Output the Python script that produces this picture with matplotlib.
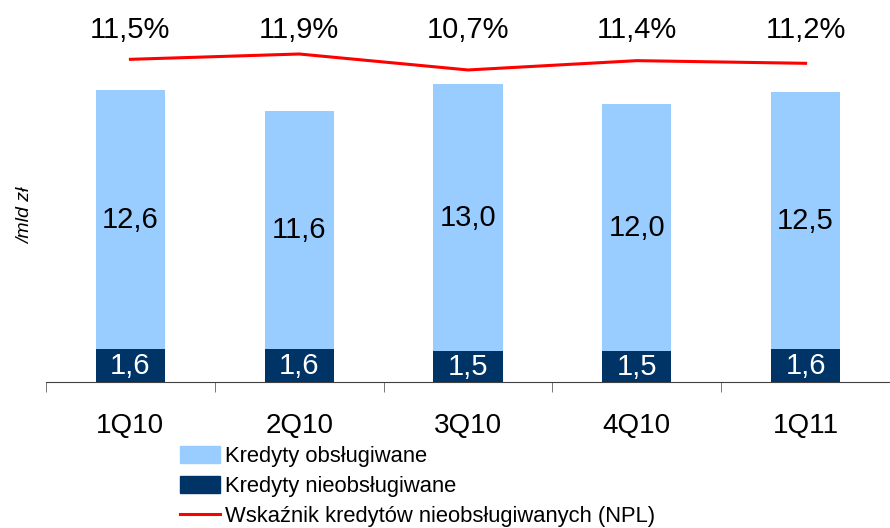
import matplotlib
matplotlib.use('Agg')
import matplotlib.pyplot as plt
from matplotlib.patches import Patch
from matplotlib.lines import Line2D

plt.rcParams['font.family'] = ['Liberation Sans', 'DejaVu Sans']

quarters = ['1Q10', '2Q10', '3Q10', '4Q10', '1Q11']
performing = [12.6, 11.6, 13.0, 12.0, 12.5]
nonperforming = [1.6, 1.6, 1.5, 1.5, 1.6]
npl_ratio = [11.5, 11.9, 10.7, 11.4, 11.2]

LIGHT = '#99CCFF'
NAVY = '#003366'
RED = '#FF0000'


def fmt(v):
    return f'{v:.1f}'.replace('.', ',')


fig = plt.figure(figsize=(8.9, 5.28), dpi=100)
ax = fig.add_axes([46 / 890, 1 - 382 / 528, 1 - 46 / 890, 382 / 528])

x = list(range(len(quarters)))
w = 0.41
ax.bar(x, nonperforming, w, color=NAVY, label='Kredyty nieobsługiwane')
ax.bar(x, performing, w, bottom=nonperforming, color=LIGHT, label='Kredyty obsługiwane')

for i in x:
    ax.text(i, nonperforming[i] / 2, fmt(nonperforming[i]), ha='center', va='center',
            color='white', fontsize=21)
    ax.text(i, nonperforming[i] + performing[i] / 2, fmt(performing[i]), ha='center',
            va='center', color='black', fontsize=21)
    ax.text(i, 17.12, fmt(npl_ratio[i]) + '%', ha='center', va='center', fontsize=21)

ax.set_xlim(-0.5, 4.5)
ax.set_ylim(0, 382 / 20.56)

ax2 = ax.twinx()
ax2.plot(x, npl_ratio, color=RED, lw=2.2)
ax2.set_ylim(11.9 - 328 / 13.3, 11.9 + 54 / 13.3)
ax2.set_axis_off()

for s in ['top', 'right', 'left']:
    ax.spines[s].set_visible(False)
ax.spines['bottom'].set_color('#404040')
ax.set_yticks([])
ax.set_xticks(x)
ax.set_xticklabels(quarters, fontsize=20)
ax.tick_params(axis='x', which='major', length=0, pad=22)
ax.set_xticks([i - 0.5 for i in range(len(quarters) + 1)], minor=True)
ax.tick_params(axis='x', which='minor', length=7, color='#606060', direction='out')

fig.text(26 / 890, 1 - 216 / 528, '/mld zł', rotation=90, style='italic', fontsize=14,
         ha='center', va='center')

handles = [Patch(color=LIGHT), Patch(color=NAVY), Line2D([], [], color=RED, lw=2.2)]
labels = ['Kredyty obsługiwane', 'Kredyty nieobsługiwane',
          'Wskaźnik kredytów nieobsługiwanych (NPL)']
fig.legend(handles, labels, loc='upper left', bbox_to_anchor=(180 / 890, 1 - 446 / 528),
           frameon=False, fontsize=15.8, handlelength=1.8, handleheight=0.8,
           handletextpad=0.25, labelspacing=0.42, borderaxespad=0, borderpad=0)

fig.savefig('out.png', dpi=100)
